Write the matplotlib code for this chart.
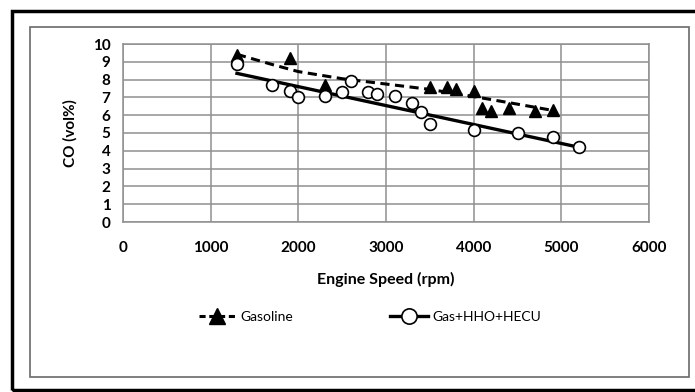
import numpy as np
import matplotlib
matplotlib.use("Agg")
import matplotlib.pyplot as plt
from matplotlib.patches import Rectangle

# readings
gas_rpm = [1300, 1900, 2300, 3500, 3700, 3800, 4000, 4100, 4200, 4400, 4700, 4900]
gas_co = [9.4, 9.2, 7.7, 7.6, 7.6, 7.5, 7.35, 6.4, 6.25, 6.4, 6.25, 6.3]

hho_rpm = [1300, 1700, 1900, 2000, 2300, 2500, 2600, 2800, 2900, 3100, 3300, 3400, 3500, 4000, 4500, 4900, 5200]
hho_co = [8.9, 7.7, 7.35, 7.05, 7.1, 7.3, 7.9, 7.3, 7.2, 7.1, 6.7, 6.2, 5.5, 5.15, 5.0, 4.75, 4.2]

# trendlines as drawn in the chart
gas_trend_rpm = [1300, 1700, 2000, 2500, 3000, 3500, 4000, 4500, 4900]
gas_trend_co = [9.42, 8.85, 8.45, 8.05, 7.75, 7.45, 7.05, 6.62, 6.27]
hho_trend_rpm = [1300, 5200]
hho_trend_co = [8.35, 4.2]

x_ticks = [0, 1000, 2000, 3000, 4000, 5000, 6000]
y_ticks = list(range(0, 11))

plt.rcParams['font.family'] = ['Lato', 'DejaVu Sans']

fig = plt.figure(figsize=(6.95, 3.92), dpi=100)
ax = fig.add_axes([123/695, 1-222/392, (649-123)/695, (222-44)/392])

ax.plot(gas_trend_rpm, gas_trend_co, color='black', lw=2.2, ls=(0, (3, 1.8)), zorder=3)
ax.plot(hho_trend_rpm, hho_trend_co, color='black', lw=2.4, zorder=3)
ax.plot(gas_rpm, gas_co, ls='none', marker='^', ms=8, color='black', zorder=4)
ax.plot(hho_rpm, hho_co, ls='none', marker='o', ms=8.5, mfc='white', mec='black', mew=1.2, zorder=4)

# legend proxies
h1, = ax.plot([], [], color='black', lw=2.2, ls=(0, (2, 1.2)), marker='^', ms=11, label='Gasoline')
h2, = ax.plot([], [], color='black', lw=2.4, marker='o', ms=11, mfc='white', mec='black', mew=1.2, label='Gas+HHO+HECU')

ax.set_xlim(0, 6000)
ax.set_ylim(0, 10)
ax.set_xticks(x_ticks)
ax.set_yticks(y_ticks)
ax.grid(True, color='#8f8f8f', lw=1.1)
ax.set_axisbelow(True)
for s in ax.spines.values():
    s.set_color('#8f8f8f')
    s.set_linewidth(1.1)
ax.tick_params(axis='both', length=0, labelsize=11)
ax.tick_params(axis='x', pad=14)
ax.tick_params(axis='y', pad=9)
for lab in ax.get_xticklabels() + ax.get_yticklabels():
    lab.set_fontweight('bold')

ax.set_xlabel('Engine Speed (rpm)', fontsize=11.5, fontweight='bold', labelpad=12)
ax.set_ylabel('CO (vol%)', fontsize=11, fontweight='bold', labelpad=11)

fig.legend(handles=[h1, h2], loc='center', bbox_to_anchor=(0.532, 1-317/392), ncol=2,
           frameon=False, fontsize=10, handlelength=2.7, handletextpad=0.3, columnspacing=7.0)

# frames around the picture
fig.add_artist(Rectangle((30/695, 1-377/392), (689-30)/695, (377-27)/392, transform=fig.transFigure,
                         fill=False, ec='#6a6a6a', lw=1.2))
fig.add_artist(Rectangle((11.5/695, 1-390/392), 1.0, (390-10.5)/392, transform=fig.transFigure,
                         fill=False, ec='black', lw=2.5))

fig.savefig('out.png', dpi=100)
